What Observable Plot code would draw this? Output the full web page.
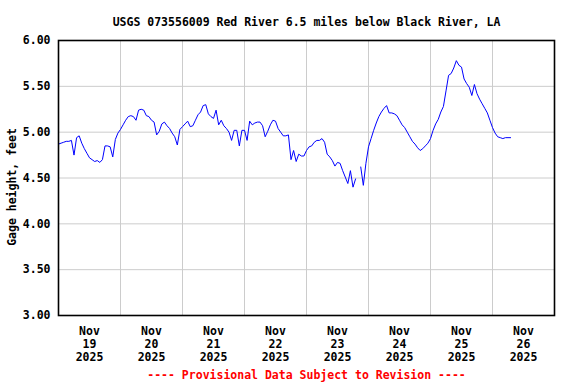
<!DOCTYPE html>
<html>
<head>
<meta charset="utf-8">
<script src="https://cdn.jsdelivr.net/npm/d3@7"></script>
<script src="https://cdn.jsdelivr.net/npm/@observablehq/plot@0.6"></script>
<style>
  html, body { margin: 0; padding: 0; background: #fff; }
</style>
</head>
<body>
<div id="chart"></div>
<script>
const titleText = "USGS 073556009 Red River 6.5 miles below Black River, LA";
const captionText = "---- Provisional Data Subject to Revision ----";
const yLabel = "Gage height, feet";
const startUTC = Date.UTC(2025, 10, 19, 0, 0);   // Nov 19 2025 00:00
const endUTC = Date.UTC(2025, 10, 27, 0, 0);     // Nov 27 2025 00:00
const dayLabels = ["19", "20", "21", "22", "23", "24", "25", "26"];
const monthLabel = "Nov";
const yearLabel = "2025";
const yTicks = [3.0, 3.5, 4.0, 4.5, 5.0, 5.5, 6.0];

// hourly gage height readings (feet), starting Nov 19 00:00
const gage = [
  4.87, 4.88, 4.89, 4.90, 4.90, 4.91, 4.75, 4.94, 4.96, 4.88,
  4.82, 4.77, 4.72, 4.70, 4.68, 4.69, 4.67, 4.70, 4.85, 4.85,
  4.84, 4.73, 4.92, 4.99, 5.03, 5.08, 5.13, 5.17, 5.18, 5.17,
  5.13, 5.24, 5.25, 5.24, 5.18, 5.17, 5.13, 5.11, 4.97, 5.01,
  5.09, 5.11, 5.07, 5.04, 4.99, 4.95, 4.86, 5.03, 5.06, 5.09,
  5.12, 5.06, 5.07, 5.13, 5.19, 5.22, 5.29, 5.30, 5.20, 5.17,
  5.15, 5.24, 5.08, 5.13, 5.07, 5.04, 5.00, 4.91, 5.02, 5.02,
  4.85, 5.02, 5.02, 4.91, 5.12, 5.08, 5.10, 5.11, 5.11, 5.07,
  4.95, 5.01, 5.08, 5.13, 5.12, 5.04, 5.00, 4.96, 4.96, 4.97,
  4.70, 4.80, 4.68, 4.76, 4.74, 4.74, 4.80, 4.84, 4.85, 4.89,
  4.91, 4.91, 4.93, 4.89, 4.76, 4.73, 4.69, 4.63, 4.67, 4.66,
  4.58, 4.51, 4.44, 4.58, 4.40, 4.49, null, 4.62, 4.42, 4.66,
  4.84, 4.93, 5.02, 5.10, 5.17, 5.22, 5.26, 5.29, 5.21, 5.21,
  5.20, 5.18, 5.13, 5.08, 5.05, 5.00, 4.95, 4.90, 4.87, 4.83,
  4.80, 4.82, 4.85, 4.88, 4.93, 5.02, 5.09, 5.14, 5.22, 5.28,
  5.45, 5.62, 5.64, 5.70, 5.78, 5.73, 5.71, 5.58, 5.53, 5.49,
  5.40, 5.52, 5.42, 5.36, 5.31, 5.26, 5.21, 5.13, 5.05, 4.99,
  4.95, 4.94, 4.93, 4.94, 4.94, 4.94
];

const HOUR = 3600 * 1000, DAY = 24 * HOUR;
const series = gage.map((v, i) => ({date: new Date(startUTC + i * HOUR), value: v}));
const midnights = d3.range(0, 9).map(i => new Date(startUTC + i * DAY));
const noons = dayLabels.map((d, i) => ({date: new Date(startUTC + i * DAY + 12 * HOUR), label: `${monthLabel}\n${d}\n${yearLabel}`}));

const chart = Plot.plot({
  width: 576,
  height: 384,
  marginLeft: 58,
  marginRight: 22,
  marginTop: 40,
  marginBottom: 69,
  style: {fontFamily: "'DejaVu Sans Mono', monospace", fontSize: "11.5px", fontWeight: "bold", background: "#fff", color: "#000"},
  x: {type: "utc", domain: [new Date(startUTC), new Date(endUTC)], axis: null},
  y: {domain: [3, 6], axis: null},
  marks: [
    Plot.gridX(midnights, {stroke: "#cccccc", strokeOpacity: 1, strokeWidth: 1}),
    Plot.gridY(yTicks, {stroke: "#cccccc", strokeOpacity: 1, strokeWidth: 1}),
    Plot.axisY(yTicks, {tickSize: 0, tickPadding: 8, tickFormat: d3.format(".2f"), label: null, fill: "#000"}),
    Plot.text(noons, {x: "date", text: "label", frameAnchor: "bottom", dy: 10, lineAnchor: "top", lineHeight: 1.13, fill: "#000"}),
    Plot.line(series, {x: "date", y: "value", stroke: "#0000ff", strokeWidth: 1}),
    Plot.frame({stroke: "#000", strokeWidth: 1.6}),
    Plot.text([titleText], {frameAnchor: "top", dy: -23, fill: "#000"}),
    Plot.text([captionText], {frameAnchor: "bottom", dy: 63, fill: "#ff0000"}),
    Plot.text([yLabel], {frameAnchor: "left", textAnchor: "middle", dx: -46, dy: 9, rotate: -90, fill: "#000"})
  ]
});
document.getElementById("chart").appendChild(chart);
</script>
</body>
</html>
